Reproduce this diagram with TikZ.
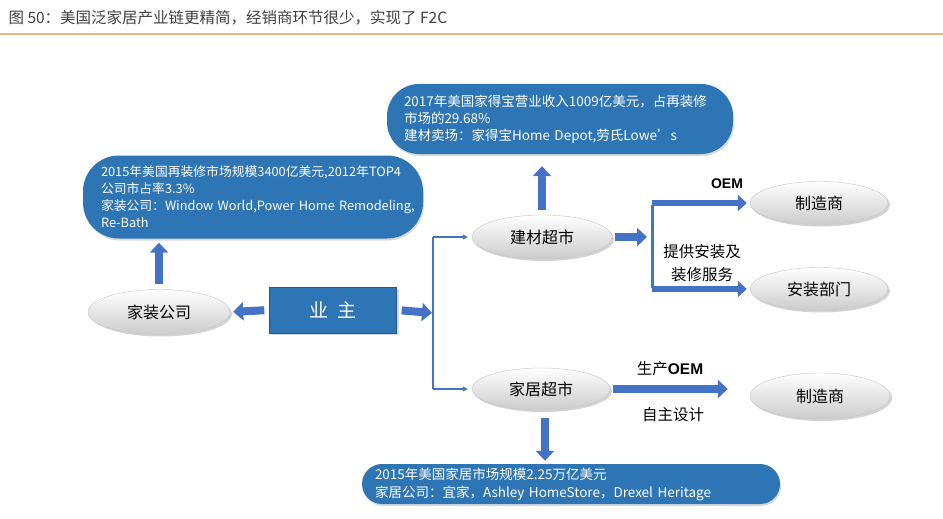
\documentclass[tikz,border=0pt]{standalone}
\usepackage{fontspec}
\setmainfont{Noto Sans CJK SC}
\newfontfamily\latinsans{Liberation Sans}
\usetikzlibrary{shapes.geometric, arrows.meta, positioning, shadows}

\definecolor{boxblue}{RGB}{46,117,182}
\definecolor{arrowblue}{RGB}{68,114,196}
\definecolor{lineorange}{RGB}{244,177,131}
\definecolor{titlegray}{RGB}{64,64,64}

\begin{document}
\begin{tikzpicture}[
    x=1pt, y=-1pt,
    infobox/.style={rectangle, fill=boxblue, text=white, align=left, inner xsep=17pt, font=\fontsize{13.5}{17}\selectfont, drop shadow={opacity=0.3, shadow xshift=1pt, shadow yshift=-2pt}},
    oval/.style={ellipse, draw=black!22, top color=white, bottom color=black!20, minimum width=140pt, minimum height=44pt, inner sep=0pt, font=\fontsize{16}{18}\selectfont, drop shadow={opacity=0.35, shadow xshift=2pt, shadow yshift=-2pt}},
    owner/.style={rectangle, fill=boxblue, draw=boxblue!75!black, text=white, minimum width=127pt, minimum height=46pt, font=\fontsize{19}{20}\selectfont, drop shadow={opacity=0.3, shadow xshift=2pt, shadow yshift=-2pt}},
    blockarrow/.style={draw=arrowblue, line width=8pt, -{Triangle[length=10pt,width=18pt]}},
    forkarrow/.style={draw=arrowblue, line width=6pt, -{Triangle[length=9pt,width=16pt]}},
    thinarrow/.style={draw=arrowblue, line width=1.5pt, -{Triangle[length=5pt,width=5pt]}},
    tag/.style={font=\fontsize{15.5}{23}\selectfont, align=center}
]
\useasboundingbox (0,0) rectangle (943,519);

% Title
\node[anchor=west, text=titlegray, font=\fontsize{15.5}{18}\selectfont] (title) at (5,18) {图 50：美国泛家居产业链更精简，经销商环节很少，实现了 F2C};
\draw[lineorange, line width=1.5pt] (0,34) -- (943,34);

% Info boxes
\node[infobox, rounded corners=32pt, minimum width=346pt, minimum height=70pt, text width=312pt] (buildinfo) at (560,119) {\mbox{2017年美国家得宝营业收入1009亿美元，占再装修}\\市场的29.68\%\\\mbox{建材卖场：家得宝Home Depot,劳氏Lowe’s}};
\node[infobox, rounded corners=36pt, minimum width=340pt, minimum height=83pt, text width=304pt, inner xsep=18pt, font=\fontsize{12.8}{17}\selectfont] (decorinfo) at (253,197) {\mbox{2015年美国再装修市场规模3400亿美元,2012年TOP4}\\公司市占率3.3\%\\\mbox{家装公司：Window World,Power Home Remodeling,}\\Re-Bath};
\node[infobox, rounded corners=20pt, minimum width=418pt, minimum height=40pt, text width=392pt, inner xsep=13pt, font=\fontsize{13.5}{18}\selectfont] (homeinfo) at (571,484) {2015年美国家居市场规模2.25万亿美元\\\mbox{家居公司：宜家，Ashley HomeStore，Drexel Heritage}};

% Owner and first level
\node[owner] (owner) at (333,310) {业\hspace{9pt}主};
\node[oval, minimum width=142pt, minimum height=45pt] (decor) at (159,312) {家装公司};
\node[oval] (buildmkt) at (542,237) {建材超市};
\node[oval, minimum width=138pt, minimum height=42pt] (homemkt) at (541,389) {家居超市};

% Second level
\node[oval, minimum width=138pt, minimum height=43pt] (maker1) at (819,203) {制造商};
\node[oval, minimum width=138pt, minimum height=43pt] (install) at (819,289) {安装部门};
\node[oval, minimum width=140pt, minimum height=46pt] (maker2) at (820,396) {制造商};

% Branch points
\coordinate (split) at (433,313);
\coordinate (fork) at (652,245);

% Arrows from the owner
\draw[blockarrow, shorten <=5pt, shorten >=3pt] (owner.west) -- (decor.east);
\draw[blockarrow, shorten <=5pt, shorten >=1pt] (owner.east) -- (split);
\draw[blockarrow, shorten <=5pt, shorten >=4pt] (decor.north) -- (decor.north |- decorinfo.south);
\draw[arrowblue, line width=1.5pt] (split |- buildmkt) -- (split |- homemkt);
\draw[thinarrow, shorten >=4pt] (split |- buildmkt) -- (buildmkt.west);
\draw[thinarrow, shorten >=4pt] (split |- homemkt) -- (homemkt.west);

% Building materials branch
\draw[blockarrow, shorten <=5pt, shorten >=12pt] (buildmkt.north) -- (buildmkt.north |- buildinfo.south);
\draw[blockarrow, shorten <=3pt, shorten >=5pt] (buildmkt.east) -- (buildmkt.east -| fork);
\draw[arrowblue, line width=3pt] ([yshift=-1.5pt]fork |- maker1) -- ([yshift=1.5pt]fork |- install);
\draw[forkarrow, shorten >=3pt] (fork |- maker1) -- (maker1.west);
\draw[forkarrow, shorten >=3pt] (fork |- install) -- (install.west);
\node[font=\latinsans\bfseries\fontsize{14}{16}\selectfont] (oemtag) at (727,184) {OEM};
\node[tag] (servtag) at (702,263) {提供安装及\\装修服务};

% Home furnishing branch
\draw[blockarrow, shorten <=3pt, shorten >=22pt] (homemkt.east) -- (maker2.west |- homemkt.east);
\draw[blockarrow, shorten <=8pt, shorten >=3pt] ([xshift=4pt]homemkt.south) -- ([xshift=4pt]homemkt.south |- homeinfo.north);
\node[tag] (prodtag) at (670,369) {生产{\latinsans\bfseries OEM}};
\node[tag] (designtag) at (673,415) {自主设计};

\end{tikzpicture}
\end{document}
